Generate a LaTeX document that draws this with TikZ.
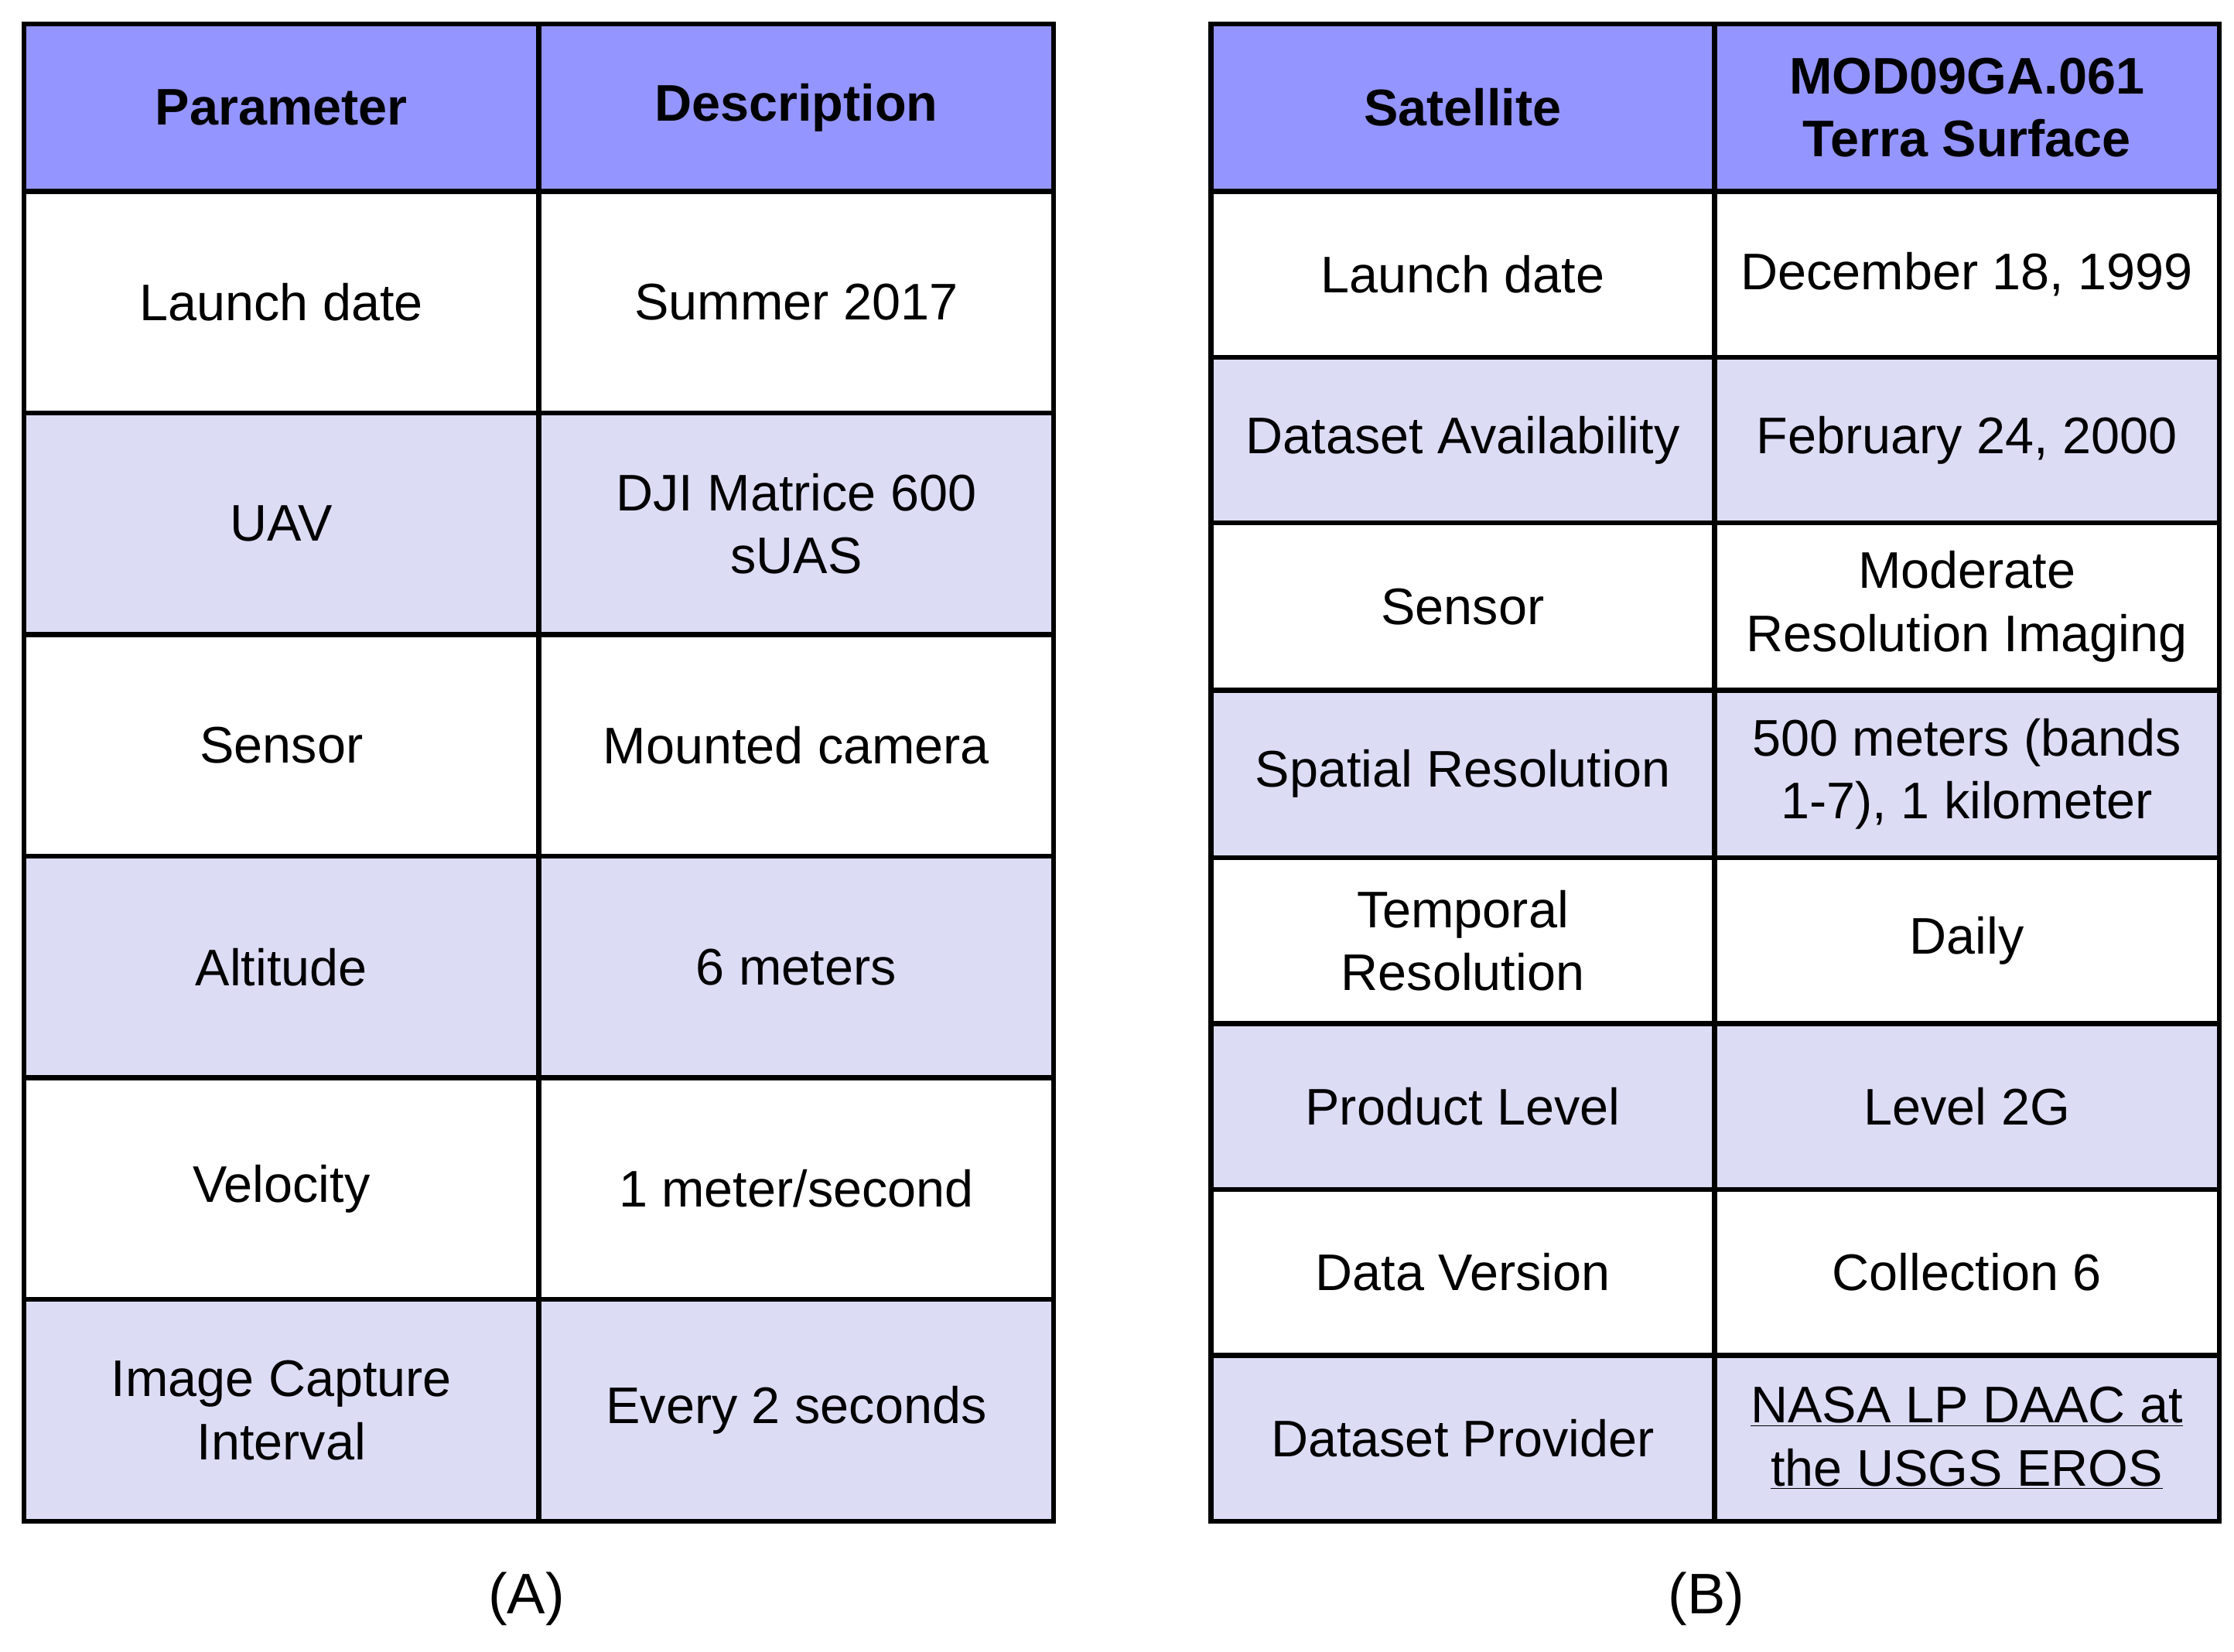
\documentclass[tikz,border=0pt]{standalone}
\usepackage{fontspec}
\setmainfont{Liberation Sans}
\definecolor{hdr}{HTML}{9595FF}
\definecolor{lite}{HTML}{DCDCF5}
\begin{document}
\begin{tikzpicture}[x=1pt,y=-1pt,
  cell/.style={draw=black,line width=3.5pt,inner sep=0pt,anchor=north west,align=center,font=\fontsize{36}{44}\selectfont},
  hd/.style={fill=hdr,font=\fontsize{36}{44}\selectfont\bfseries},
  lt/.style={fill=lite},
  wt/.style={fill=white},
  captext/.style={font=\fontsize{40}{48}\selectfont}]
\useasboundingbox (0,0) rectangle (1562,1155);
% Table A
\foreach \ya/\yb/\st/\ta/\tb [count=\i] in {15/132/hd/Parameter/Description,132/287/wt/Launch date/Summer 2017,287/442/lt/UAV/{DJI Matrice 600\\sUAS},442/597/wt/Sensor/Mounted camera,597/752/lt/Altitude/6 meters,752/907/wt/Velocity/{1 meter/second},907/1062/lt/{Image Capture\\Interval}/Every 2 seconds}{
  \node[cell,\st,minimum width=360pt,minimum height={\yb-\ya}] (a\i l) at (15,\ya) {\ta};
  \node[cell,\st,minimum width=360pt,minimum height={\yb-\ya}] (a\i r) at (375,\ya) {\tb};
}
% Table B
\foreach \ya/\yb/\st/\ta/\tb [count=\i] in {15/132/hd/Satellite/{MOD09GA.061\\Terra Surface},132/248/wt/Launch date/{December 18, 1999},248/364/lt/Dataset Availability/{February 24, 2000},364/481/wt/Sensor/{Moderate\\Resolution Imaging},481/598/lt/Spatial Resolution/{500 meters (bands\\1-7), 1 kilometer},598/714/wt/{Temporal\\Resolution}/Daily,714/830/lt/Product Level/Level 2G,830/946/wt/Data Version/Collection 6,946/1062/lt/Dataset Provider/{\underline{NASA LP DAAC at}\\\underline{the USGS EROS}}}{
  \node[cell,\st,minimum width=352pt,minimum height={\yb-\ya}] (b\i l) at (845,\ya) {\ta};
  \node[cell,\st,minimum width=353pt,minimum height={\yb-\ya}] (b\i r) at (1197,\ya) {\tb};
}
\node[captext] (capA) at (368,1118) {(A)};
\node[captext] (capB) at (1193,1118) {(B)};
\end{tikzpicture}
\end{document}
